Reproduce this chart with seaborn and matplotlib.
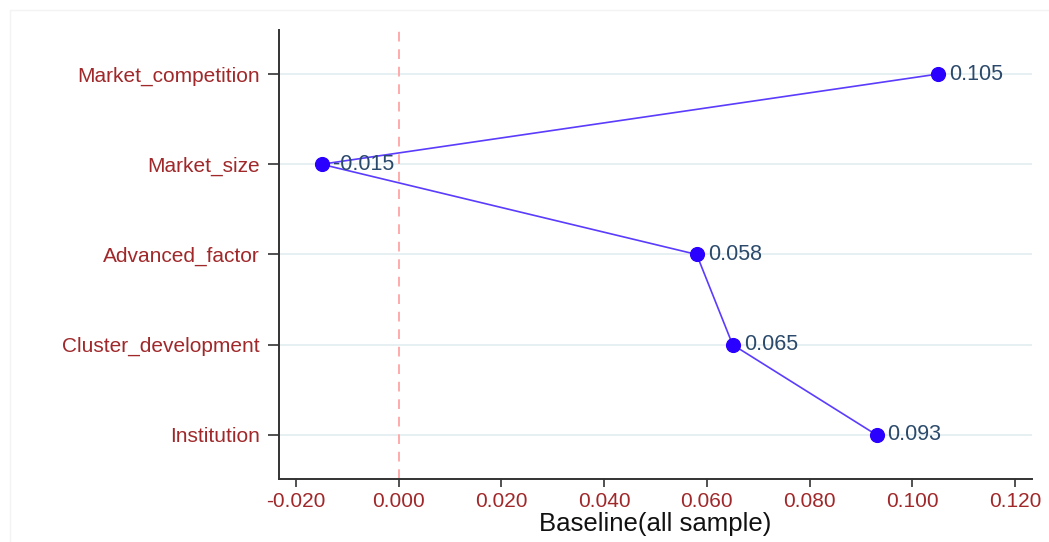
import matplotlib
matplotlib.use("Agg")
import matplotlib.pyplot as plt
import seaborn as sns
import pandas as pd
from matplotlib.patches import Rectangle

# Coefficients by factor
factors = ["Market_competition", "Market_size", "Advanced_factor",
           "Cluster_development", "Institution"]
coefs = [0.105, -0.015, 0.058, 0.065, 0.093]
xticks = [-0.020, 0.000, 0.020, 0.040, 0.060, 0.080, 0.100, 0.120]
xlabel = "Baseline(all sample)"

df = pd.DataFrame({"factor": factors, "coef": coefs})

sns.set_theme(style="white")
plt.rcParams["font.family"] = ["Liberation Sans", "DejaVu Sans"]

fig = plt.figure(figsize=(10.49, 5.42), dpi=100)
ax = fig.add_axes([0.266, 0.116, 0.718, 0.829])

# faint outer frame of the graph region
fig.patches.append(Rectangle((10 / 1049, -0.01), 1.02, 1 - 10 / 542 + 0.01,
                             transform=fig.transFigure, fill=False,
                             edgecolor="#f3f3f3", linewidth=1.0))

# light horizontal grid at each factor
for i in range(len(factors)):
    ax.axhline(i, color="#e4eef1", linewidth=1.3, zorder=0)

# reference line at zero
ax.axvline(0, color="#ffaaaa", linestyle=(0, (5, 4)), linewidth=1.4, zorder=1)

sns.pointplot(data=df, x="coef", y="factor", order=factors, orient="h",
              color="#5a3cff", markers="o", markersize=10, linewidth=1.2,
              errorbar=None, ax=ax, zorder=3)
for line in ax.lines:
    if line.get_marker() == "o":
        line.set_markerfacecolor("#2a00ff")
        line.set_markeredgecolor("#2a00ff")

for i, v in enumerate(coefs):
    ax.annotate(f"{v:.3f}", xy=(v, i), xytext=(8, 0), textcoords="offset points",
                ha="left", va="center", fontsize=15.5, color="#2b4a6b", zorder=4)

ax.set_xlim(-0.02327, 0.1233)
ax.set_ylim(len(factors) - 1 + 0.49, -0.49)
ax.set_xticks(xticks)
ax.set_xticklabels([f"{t:.3f}" for t in xticks])
ax.set_xlabel(xlabel, fontsize=18.5, color="#111111", labelpad=1)
ax.set_ylabel("")

ax.tick_params(axis="x", colors="#333333", labelcolor="#a0282a", labelsize=15,
               length=6, width=1.2, direction="out", bottom=True, pad=3)
ax.tick_params(axis="y", colors="#333333", labelcolor="#a0282a", labelsize=15,
               length=8, width=1.2, direction="out", left=True, pad=6)

for side in ["top", "right"]:
    ax.spines[side].set_visible(False)
for side in ["left", "bottom"]:
    ax.spines[side].set_color("#333333")
    ax.spines[side].set_linewidth(1.4)

fig.savefig("out.png", dpi=100)
